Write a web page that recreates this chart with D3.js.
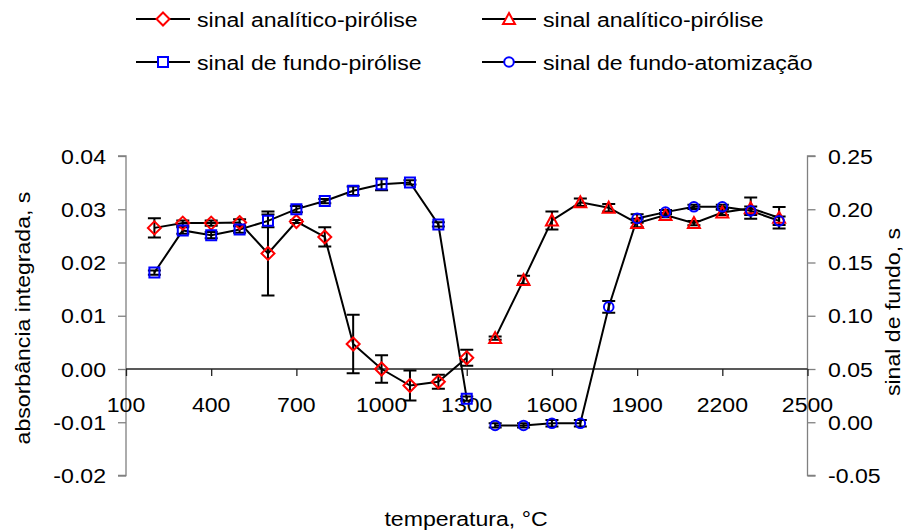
<!DOCTYPE html>
<html>
<head>
<meta charset="utf-8">
<script src="https://cdn.jsdelivr.net/npm/d3@7"></script>
<style>
  html, body { margin: 0; padding: 0; background: #fff; }
  svg { display: block; }
  text { font-family: "Liberation Sans", Arial, sans-serif; fill: #000; }
</style>
</head>
<body>
<svg id="chart" width="918" height="531"></svg>
<script>
// Temperatures (°C)
const tempPyro = [200, 300, 400, 500, 600, 700, 800, 900, 1000, 1100, 1200, 1300];
const tempAtom = [1400, 1500, 1600, 1700, 1800, 1900, 2000, 2100, 2200, 2300, 2400];

// Analytical signal (integrated absorbance, s) - left axis
const analyticPyro    = [0.0265, 0.0274, 0.0274, 0.0275, 0.0217, 0.0277, 0.0248, 0.0047, 0.0000, -0.0031, -0.0024, 0.0021];
const analyticPyroErr = [0.0018, 0.0005, 0.0005, 0.0006, 0.0079, 0.0003, 0.0018, 0.0055, 0.0026, 0.0028, 0.0013, 0.0015];
const analyticAtom    = [0.0058, 0.0167, 0.0279, 0.0313, 0.0303, 0.0274, 0.0289, 0.0274, 0.0294, 0.0302, 0.0284];
const analyticAtomErr = [0.0003, 0.0008, 0.0017, 0.0007, 0.0007, 0.0008, 0.0004, 0.0004, 0.0005, 0.0020, 0.0020];

// Background signal (s) - right axis
const backgroundPyro    = [0.1406, 0.1801, 0.1757, 0.1810, 0.1891, 0.2001, 0.2077, 0.2173, 0.2234, 0.2252, 0.1857, 0.0221];
const backgroundPyroErr = [0.002, 0.003, 0.003, 0.003, 0.006, 0.003, 0.002, 0.004, 0.0055, 0.002, 0.002, 0.002];
const backgroundAtom    = [-0.003, -0.003, -0.001, -0.001, 0.1083, 0.1914, 0.1973, 0.2023, 0.2023, 0.1985, 0.1891];
const backgroundAtomErr = [0.002, 0.002, 0.003, 0.003, 0.0055, 0.004, 0.002, 0.002, 0.002, 0.004, 0.004];

// Axis ticks and labels
const xTicks = [100, 400, 700, 1000, 1300, 1600, 1900, 2200, 2500];
const yLeftTicks = [-0.02, -0.01, 0.00, 0.01, 0.02, 0.03, 0.04];
const yRightTicks = [-0.05, 0.00, 0.05, 0.10, 0.15, 0.20, 0.25];
const legendLabels = ["sinal analítico-pirólise", "sinal analítico-pirólise", "sinal de fundo-pirólise", "sinal de fundo-atomização"];
const xTitle = "temperatura, °C";
const yLeftTitle = "absorbância integrada, s";
const yRightTitle = "sinal de fundo, s";

const svg = d3.select("#chart");
const FONT = 21, SX = 1.1;
// two decimals with a plain hyphen for negatives
const fmt = v => v.toFixed(2).replace("\u2212", "-");

const x = d3.scaleLinear().domain([100, 2500]).range([126, 807.5]);
const yL = d3.scaleLinear().domain([-0.02, 0.04]).range([475.5, 156]);
const yR = d3.scaleLinear().domain([-0.05, 0.25]).range([475.5, 156]);

function label(g, px, py, str, anchor, rot) {
  return g.append("text")
    .attr("transform", `translate(${px},${py}) rotate(${rot || 0}) scale(${SX},1)`)
    .attr("text-anchor", anchor)
    .attr("font-size", FONT)
    .text(str);
}

const axes = svg.append("g");

// Left axis
const gL = axes.append("g").attr("transform", `translate(${x.range()[0]},0)`);
gL.call(d3.axisLeft(yL).tickValues(yLeftTicks).tickSize(8).tickFormat(""));
gL.selectAll("path, line").attr("stroke", "#808080").attr("stroke-width", 1.3);
gL.select(".domain").attr("d", `M-8,${yL(-0.02)}H0V${yL(0.04)}H-8`);
yLeftTicks.forEach(v => label(axes, 106, yL(v) + 7.5, fmt(v), "end"));

// Right axis
const gR = axes.append("g").attr("transform", `translate(${x.range()[1]},0)`);
gR.call(d3.axisRight(yR).tickValues(yRightTicks).tickSize(8).tickFormat(""));
gR.selectAll("path, line").attr("stroke", "#808080").attr("stroke-width", 1.3);
gR.select(".domain").attr("d", `M8,${yR(-0.05)}H0V${yR(0.25)}H8`);
yRightTicks.forEach(v => label(axes, 828, yR(v) + 7.5, fmt(v), "start"));

// Bottom axis through zero of the left scale
const gX = axes.append("g").attr("transform", `translate(0,${yL(0)})`);
gX.call(d3.axisBottom(x).tickValues(xTicks).tickSize(7).tickFormat(""));
gX.selectAll("path, line").attr("stroke", "#222").attr("stroke-width", 1.3);
gX.select(".domain").attr("d", `M${x(100)},0H${x(2500)}`);
xTicks.forEach(v => label(axes, x(v), yL(0) + 43, String(v), "middle"));

// Axis titles
label(axes, 466, 526, xTitle, "middle");
label(axes, 30, 318, yLeftTitle, "middle", -90);
label(axes, 900, 312, yRightTitle, "middle", -90);

// Marker outlines
function diamondPath() { return "M0,-6.5L6.5,0L0,6.5L-6.5,0Z"; }
function trianglePath() { return "M0,-6L6,5L-6,5Z"; }
function squarePath() { return "M-5,-5H5V5H-5Z"; }
function circlePath() { return "M4.8,0A4.8,4.8 0 1,1 -4.8,0A4.8,4.8 0 1,1 4.8,0Z"; }

const series = [
  { xs: tempPyro, ys: analyticPyro, err: analyticPyroErr, scale: yL, shape: diamondPath, color: "#ff0000" },
  { xs: tempAtom, ys: analyticAtom, err: analyticAtomErr, scale: yL, shape: trianglePath, color: "#ff0000" },
  { xs: tempPyro, ys: backgroundPyro, err: backgroundPyroErr, scale: yR, shape: squarePath, color: "#0000ff" },
  { xs: tempAtom, ys: backgroundAtom, err: backgroundAtomErr, scale: yR, shape: circlePath, color: "#0000ff" }
];

const plot = svg.append("g");
const line = d3.line();

series.forEach(s => {
  const pts = s.xs.map((t, i) => [x(t), s.scale(s.ys[i])]);
  plot.append("path")
    .attr("d", line(pts))
    .attr("fill", "none")
    .attr("stroke", "#000")
    .attr("stroke-width", 2);
});

series.forEach(s => {
  const g = plot.append("g");
  s.xs.forEach((t, i) => {
    const cx = x(t);
    const y1 = s.scale(s.ys[i] + s.err[i]);
    const y2 = s.scale(s.ys[i] - s.err[i]);
    g.append("path")
      .attr("d", `M${cx},${y1}V${y2}M${cx - 6.5},${y1}H${cx + 6.5}M${cx - 6.5},${y2}H${cx + 6.5}`)
      .attr("stroke", "#000")
      .attr("stroke-width", 2)
      .attr("fill", "none");
  });
});

series.forEach(s => {
  plot.append("g").selectAll("path")
    .data(s.xs.map((t, i) => [x(t), s.scale(s.ys[i])]))
    .join("path")
    .attr("transform", d => `translate(${d[0]},${d[1]})`)
    .attr("d", s.shape())
    .attr("fill", "none")
    .attr("stroke", s.color)
    .attr("stroke-width", 2);
});

// Legend
const legendPos = [
  { lx: 136, ly: 19 }, { lx: 482, ly: 19 },
  { lx: 136, ly: 62 }, { lx: 482, ly: 62 }
];
const legend = svg.append("g");
series.forEach((s, i) => {
  const p = legendPos[i];
  legend.append("line")
    .attr("x1", p.lx).attr("x2", p.lx + 54)
    .attr("y1", p.ly).attr("y2", p.ly)
    .attr("stroke", "#000").attr("stroke-width", 2);
  legend.append("path")
    .attr("transform", `translate(${p.lx + 27},${p.ly})`)
    .attr("d", s.shape())
    .attr("fill", "#fff")
    .attr("stroke", s.color)
    .attr("stroke-width", 2);
  label(legend, p.lx + 61, p.ly + 7.5, legendLabels[i], "start");
});
</script>
</body>
</html>
